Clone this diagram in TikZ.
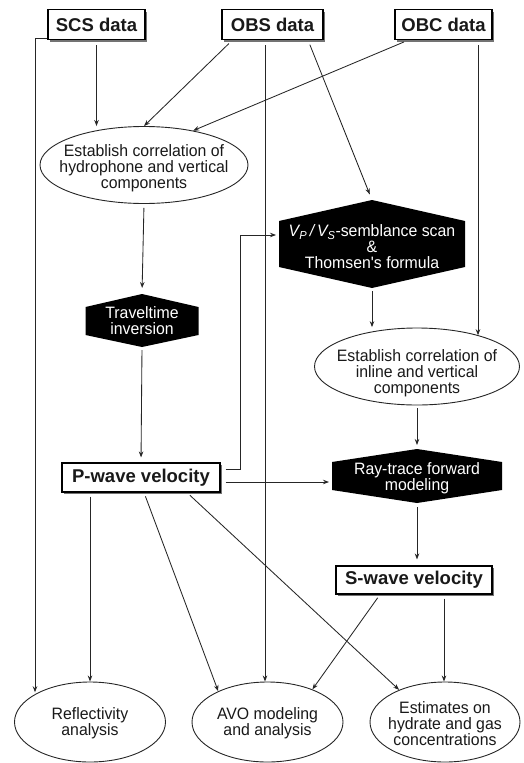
\documentclass[tikz,border=0pt]{standalone}
\usepackage{fontspec}
\setmainfont{Liberation Sans}
\newfontfamily\condfont{Liberation Sans}[FakeStretch=0.96]
\usetikzlibrary{shapes.geometric,shadows,backgrounds,arrows.meta,calc}
\begin{document}
\begin{tikzpicture}[x=1pt,y=-1pt,
  lbl/.style={align=center, inner sep=0pt, font=\condfont\fontsize{16.5}{16}\selectfont, text=black!90},
  hexlbl/.style={lbl, text=white},
  databox/.style={draw=black, line width=1.1pt, fill=white, inner sep=0pt, minimum height=30pt,
    font=\fontsize{18.5}{20}\selectfont\bfseries, text=black!90,
    general shadow={shadow xshift=2pt, shadow yshift=-2pt, fill=black!55}},
  oval/.style={ellipse, draw=black!85, line width=0.9pt, inner sep=0pt},
  hexnode/.style={inner sep=0pt, outer sep=0pt},
  arr/.style={-{Stealth[length=6pt,width=4.5pt]}, line width=0.85pt, draw=black!85},
]
\useasboundingbox (0,0) rectangle (523,763);

% data boxes
\node[databox, minimum width=97pt]  (scs) at (96.5,24.5)  {SCS data};
\node[databox, minimum width=101pt] (obs) at (272.5,24.5) {OBS data};
\node[databox, minimum width=97pt]  (obc) at (443.5,24.5) {OBC data};

% ellipses
\node[oval, minimum width=208pt, minimum height=77pt] (e1) at (144,165) {};
\node[lbl] (e1t) at ([yshift=-3pt]e1.center) {Establish correlation of\\hydrophone and vertical\\components};
\node[oval, minimum width=205pt, minimum height=77pt] (e3) at (417,366.5) {};
\node[lbl] (e3t) at ([yshift=-7pt]e3.center) {Establish correlation of\\inline and vertical\\components};

% hexagon nodes
\node[hexnode, minimum width=113pt, minimum height=28pt] (trav) at (142,321) {};
\node[hexnode, minimum width=186pt, minimum height=46pt] (vpvs) at (372,244) {};
\node[hexnode, minimum width=170pt, minimum height=28pt] (ray) at (417,476) {};

\coordinate (trav-t) at ([yshift=13pt]trav.north);
\coordinate (trav-b) at ([yshift=-12pt]trav.south);
\coordinate (vpvs-t) at ([yshift=21pt]vpvs.north);
\coordinate (vpvs-b) at ([yshift=-21pt]vpvs.south);
\coordinate (ray-t) at ([yshift=13pt]ray.north);
\coordinate (ray-b) at ([yshift=-13pt]ray.south);

\fill[black] (trav.north west) -- (trav-t) -- (trav.north east) -- (trav.south east) -- (trav-b) -- (trav.south west) -- cycle;
\fill[black] (vpvs.north west) -- (vpvs-t) -- (vpvs.north east) -- (vpvs.south east) -- (vpvs-b) -- (vpvs.south west) -- cycle;
\fill[black] (ray.north west) -- (ray-t) -- (ray.north east) -- (ray.south east) -- (ray-b) -- (ray.south west) -- cycle;

\node[hexlbl] (travt) at (trav.center) {Traveltime\\inversion};
\node[hexlbl] (vpvst) at ([yshift=-3pt]vpvs.center)
  {\textit{V\textsubscript{P}\,/\,V\textsubscript{S}}-semblance scan\\\&\\Thomsen's formula};
\node[hexlbl] (rayt) at ([yshift=-2pt]ray.center) {Ray-trace forward\\modeling};

% velocity boxes
\node[databox, minimum width=158pt, minimum height=29pt] (pw) at (141,477.5) {P-wave velocity};
\node[databox, minimum width=156pt, minimum height=28pt] (sw) at (414,580) {S-wave velocity};

% bottom ellipses
\node[oval, minimum width=151pt, minimum height=80pt] (refl) at (90,722) {};
\node[lbl] (reflt) at ([yshift=-1pt]refl.center) {Reflectivity\\analysis};
\node[oval, minimum width=151pt, minimum height=80pt] (avo) at (267.5,722) {};
\node[lbl] (avot) at ([yshift=-1pt]avo.center) {AVO modeling\\and analysis};
\node[oval, minimum width=150pt, minimum height=80pt] (est) at (445,722) {};
\node[lbl] (estt) at ([yshift=-2pt]est.center) {Estimates on\\hydrate and gas\\concentrations};

% connectors
\coordinate (scsbend) at (35,38);
\draw[arr] (scs.west |- scsbend) -- (scsbend) -- (scsbend |- refl.150);
\draw[arr, shorten <=5pt] (scs.south) -- (scs.south |- e1.north);
\draw[arr, shorten <=5pt] ([xshift=-40pt]obs.south) -- (e1.north);
\draw[arr, shorten <=5pt] ([xshift=-35pt]obc.south) -- (e1.35);
\draw[arr, shorten <=5pt] ([xshift=-7.5pt]obs.south) -- ([xshift=-7.5pt]obs.south |- avo.north);
\draw[arr, shorten <=5pt, shorten >=6pt] ([xshift=35.5pt]obs.south) -- (vpvs-t);
\draw[arr, shorten <=5pt] ([xshift=34.5pt]obc.south) -- ([xshift=34.5pt]obc.south |- e3.27);
\draw[arr, shorten <=4pt, shorten >=6pt] (e1.south) -- (trav-t);
\draw[arr, shorten <=3pt, shorten >=5pt] (trav-b) -- (pw.north);
\coordinate (pbend) at (240,235);
\draw[arr, shorten <=5pt, shorten >=3pt] ([yshift=8.5pt]pw.east) -| (pbend) -- (pbend -| vpvs.west);
\draw[arr, shorten <=5pt, shorten >=3pt] ([yshift=-4.5pt]pw.east) -- ([yshift=-4.5pt]pw.east -| ray.west);
\draw[arr, shorten <=3pt, shorten >=2pt] (vpvs-b) -- (vpvs-b |- e3.128);
\draw[arr, shorten <=3pt, shorten >=4pt] (e3.south) -- (ray-t);
\draw[arr, shorten <=4pt, shorten >=6pt] (ray-b) -- (ray-b |- sw.north);
\draw[arr, shorten <=4pt] ([xshift=-34pt]sw.south) -- (avo.36);
\draw[arr, shorten <=4pt] ([xshift=30pt]sw.south) -- ([xshift=30pt]sw.south |- est.north);
\draw[arr, shorten <=4pt] (pw.south -| refl.north) -- (refl.north);
\draw[arr, shorten <=4pt] ([xshift=3pt]pw.south) -- (avo.148);
\draw[arr, shorten <=4pt] ([xshift=46pt]pw.south) -- (est.145);
\end{tikzpicture}
\end{document}
